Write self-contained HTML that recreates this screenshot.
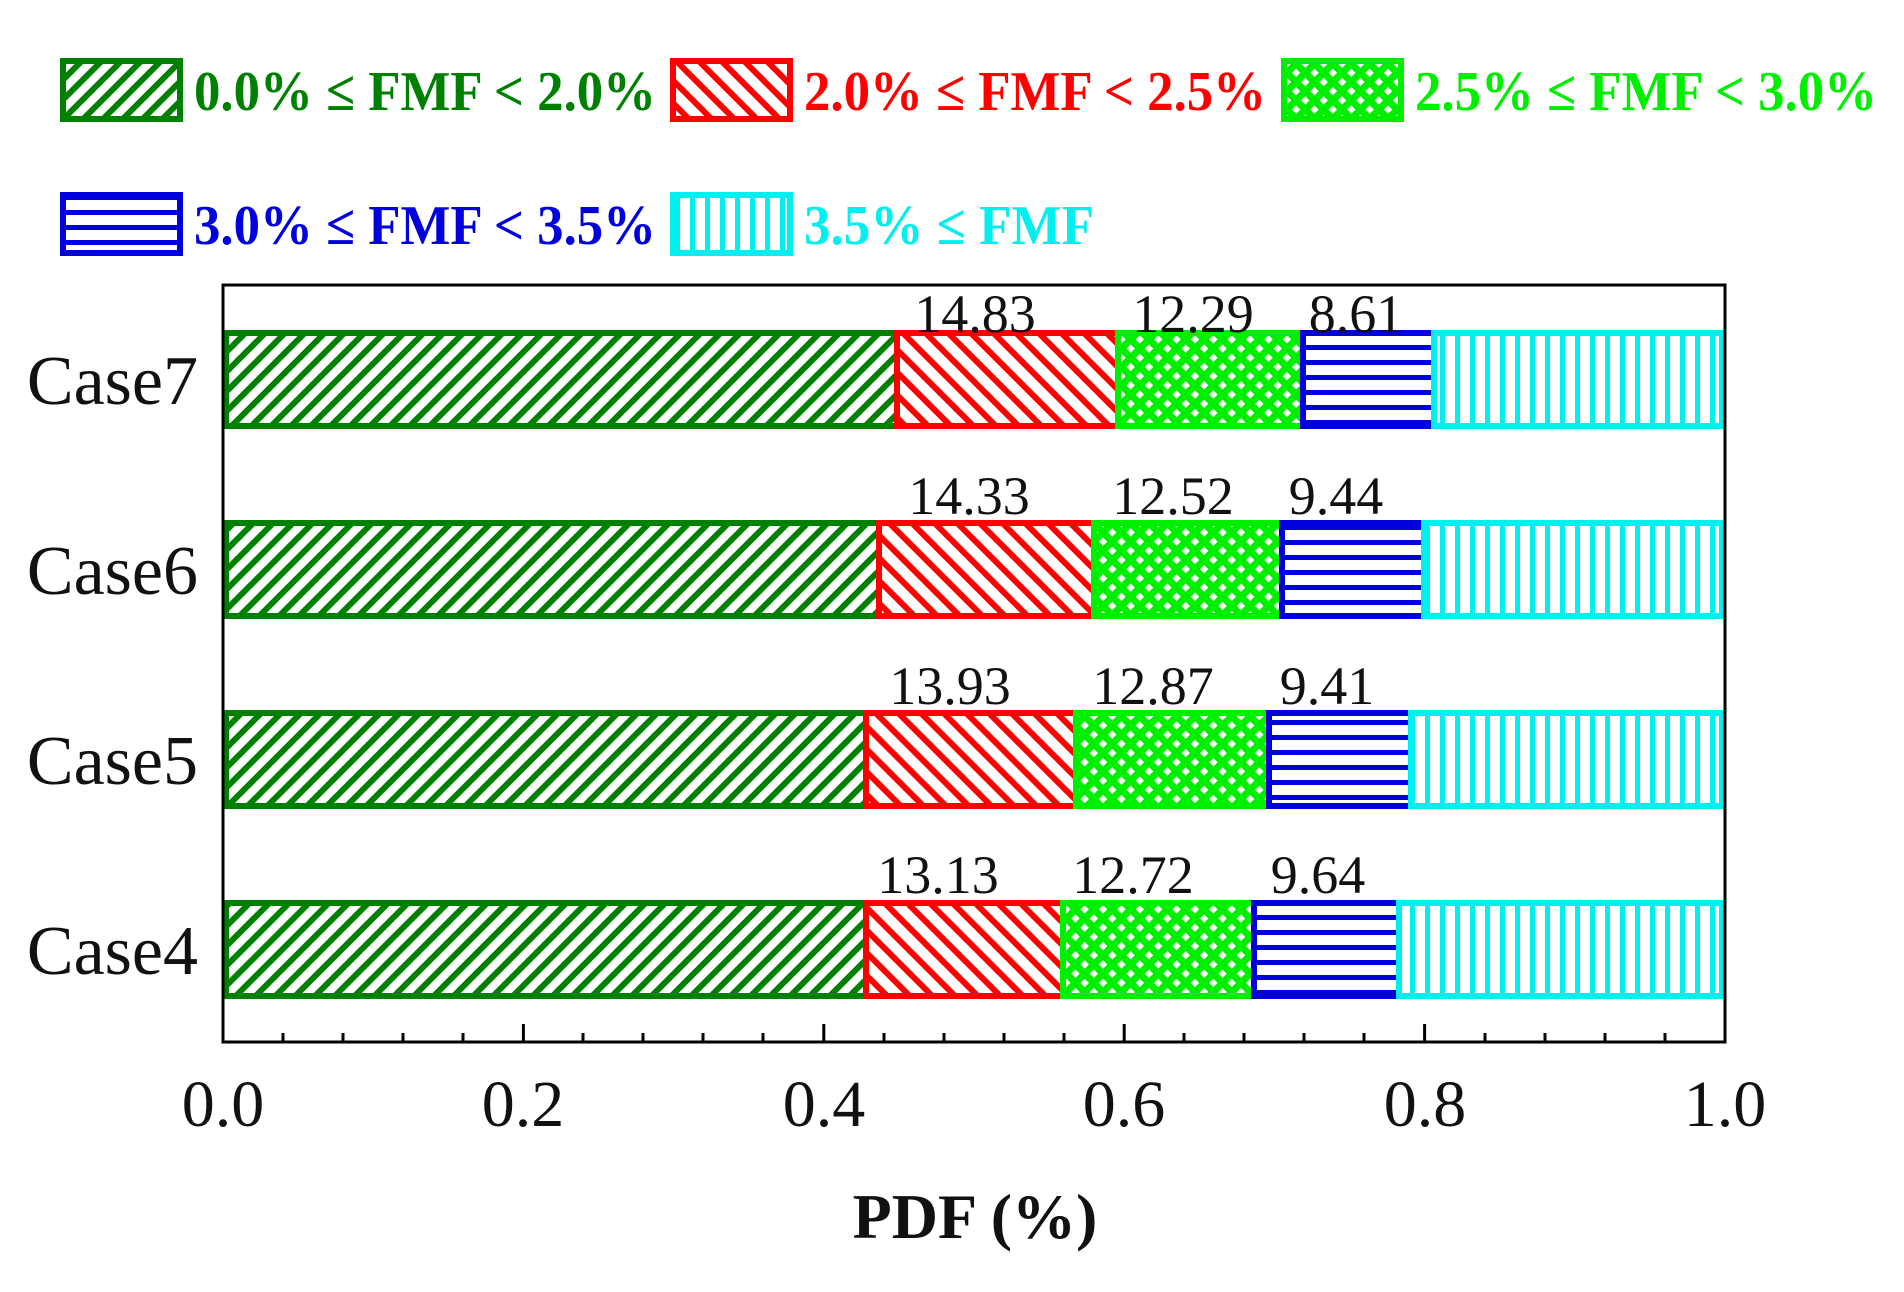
<!DOCTYPE html>
<html><head><meta charset="utf-8"><style>
html,body{margin:0;padding:0;background:#fff;}
svg{display:block;}
</style></head><body>
<svg width="1904" height="1292" viewBox="0 0 1904 1292" xmlns="http://www.w3.org/2000/svg">
<defs>
<pattern id="pg" width="14" height="14" patternUnits="userSpaceOnUse" patternTransform="rotate(45)">
<rect width="14" height="14" fill="#fff"/><rect x="0" width="6" height="14" fill="#008000"/></pattern>
<pattern id="pr" width="16" height="16" patternUnits="userSpaceOnUse" patternTransform="rotate(-45)">
<rect width="16" height="16" fill="#fff"/><rect x="0" width="6" height="16" fill="#ff0000"/></pattern>
<pattern id="pl" width="13" height="13" patternUnits="userSpaceOnUse" patternTransform="rotate(45)">
<rect width="13" height="13" fill="#00ee00"/><rect x="3" y="3" width="6" height="6" fill="#f4fff4"/></pattern>
<pattern id="pb" width="15" height="15" patternUnits="userSpaceOnUse">
<rect width="15" height="15" fill="#fff"/><rect y="0" width="15" height="5" fill="#0000dd"/></pattern>
<pattern id="pc" width="15" height="15" patternUnits="userSpaceOnUse">
<rect width="15" height="15" fill="#fff"/><rect x="0" width="5" height="15" fill="#00f0f0"/></pattern>
</defs>

<!-- Legend -->
<g font-family="Liberation Serif, serif" font-weight="bold" font-size="56">
<rect x="63" y="61" width="117" height="58" fill="url(#pg)" stroke="#008000" stroke-width="6"/>
<text x="194" y="110" fill="#008000" textLength="462" lengthAdjust="spacingAndGlyphs">0.0% ≤ FMF &lt; 2.0%</text>
<rect x="673" y="61" width="117" height="58" fill="url(#pr)" stroke="#ff0000" stroke-width="6"/>
<text x="804" y="110" fill="#ff0000" textLength="462" lengthAdjust="spacingAndGlyphs">2.0% ≤ FMF &lt; 2.5%</text>
<rect x="1284" y="61" width="117" height="58" fill="url(#pl)" stroke="#00ee00" stroke-width="6"/>
<text x="1415" y="110" fill="#00ee00" textLength="462" lengthAdjust="spacingAndGlyphs">2.5% ≤ FMF &lt; 3.0%</text>
<rect x="63" y="195" width="117" height="58" fill="url(#pb)" stroke="#0000dd" stroke-width="6"/>
<text x="194" y="244" fill="#0000dd" textLength="462" lengthAdjust="spacingAndGlyphs">3.0% ≤ FMF &lt; 3.5%</text>
<rect x="673" y="195" width="117" height="58" fill="url(#pc)" stroke="#00f0f0" stroke-width="6"/>
<text x="804" y="244" fill="#00f0f0" textLength="290" lengthAdjust="spacingAndGlyphs">3.5% ≤ FMF</text>
</g>

<!-- Bars -->
<g stroke-width="6">
<rect x="226" y="333" width="671" height="93" fill="url(#pg)" stroke="#008000"/>
<rect x="897" y="333" width="221" height="93" fill="url(#pr)" stroke="#ff0000"/>
<rect x="1118" y="333" width="185" height="93" fill="url(#pl)" stroke="#00ee00"/>
<rect x="1303" y="333" width="131" height="93" fill="url(#pb)" stroke="#0000dd"/>
<rect x="1434" y="333" width="288" height="93" fill="url(#pc)" stroke="#00f0f0"/>
<rect x="226" y="523" width="653" height="93" fill="url(#pg)" stroke="#008000"/>
<rect x="879" y="523" width="215" height="93" fill="url(#pr)" stroke="#ff0000"/>
<rect x="1094" y="523" width="188" height="93" fill="url(#pl)" stroke="#00ee00"/>
<rect x="1282" y="523" width="142" height="93" fill="url(#pb)" stroke="#0000dd"/>
<rect x="1424" y="523" width="298" height="93" fill="url(#pc)" stroke="#00f0f0"/>
<rect x="226" y="713" width="640" height="93" fill="url(#pg)" stroke="#008000"/>
<rect x="866" y="713" width="210" height="93" fill="url(#pr)" stroke="#ff0000"/>
<rect x="1076" y="713" width="193" height="93" fill="url(#pl)" stroke="#00ee00"/>
<rect x="1269" y="713" width="142" height="93" fill="url(#pb)" stroke="#0000dd"/>
<rect x="1411" y="713" width="311" height="93" fill="url(#pc)" stroke="#00f0f0"/>
<rect x="226" y="903" width="640" height="93" fill="url(#pg)" stroke="#008000"/>
<rect x="866" y="903" width="197" height="93" fill="url(#pr)" stroke="#ff0000"/>
<rect x="1063" y="903" width="191" height="93" fill="url(#pl)" stroke="#00ee00"/>
<rect x="1254" y="903" width="145" height="93" fill="url(#pb)" stroke="#0000dd"/>
<rect x="1399" y="903" width="323" height="93" fill="url(#pc)" stroke="#00f0f0"/>
</g>

<!-- Axes frame -->
<rect x="223" y="285" width="1502" height="757" fill="none" stroke="#000" stroke-width="3"/>
<g stroke="#000" stroke-width="3">
<line x1="223" y1="1042" x2="223" y2="1024"/>
<line x1="523.4" y1="1042" x2="523.4" y2="1024"/>
<line x1="823.8" y1="1042" x2="823.8" y2="1024"/>
<line x1="1124.2" y1="1042" x2="1124.2" y2="1024"/>
<line x1="1424.6" y1="1042" x2="1424.6" y2="1024"/>
<line x1="283" y1="1042" x2="283" y2="1033"/><line x1="343" y1="1042" x2="343" y2="1033"/><line x1="403" y1="1042" x2="403" y2="1033"/><line x1="463" y1="1042" x2="463" y2="1033"/>
<line x1="583" y1="1042" x2="583" y2="1033"/><line x1="643" y1="1042" x2="643" y2="1033"/><line x1="703" y1="1042" x2="703" y2="1033"/><line x1="763" y1="1042" x2="763" y2="1033"/>
<line x1="884" y1="1042" x2="884" y2="1033"/><line x1="944" y1="1042" x2="944" y2="1033"/><line x1="1004" y1="1042" x2="1004" y2="1033"/><line x1="1064" y1="1042" x2="1064" y2="1033"/>
<line x1="1184" y1="1042" x2="1184" y2="1033"/><line x1="1244" y1="1042" x2="1244" y2="1033"/><line x1="1304" y1="1042" x2="1304" y2="1033"/><line x1="1364" y1="1042" x2="1364" y2="1033"/>
<line x1="1485" y1="1042" x2="1485" y2="1033"/><line x1="1545" y1="1042" x2="1545" y2="1033"/><line x1="1605" y1="1042" x2="1605" y2="1033"/><line x1="1665" y1="1042" x2="1665" y2="1033"/>
</g>

<!-- Tick labels -->
<g font-family="Liberation Serif, serif" font-size="66" fill="#111" text-anchor="middle">
<text x="223" y="1126">0.0</text>
<text x="523" y="1126">0.2</text>
<text x="824" y="1126">0.4</text>
<text x="1124" y="1126">0.6</text>
<text x="1425" y="1126">0.8</text>
<text x="1725" y="1126">1.0</text>
</g>
<text x="975" y="1238" font-family="Liberation Serif, serif" font-weight="bold" font-size="64" text-anchor="middle" fill="#111">PDF (%)</text>

<!-- Case labels -->
<g font-family="Liberation Serif, serif" font-size="70" fill="#111" text-anchor="end">
<text x="198" y="404">Case7</text>
<text x="198" y="594">Case6</text>
<text x="198" y="784">Case5</text>
<text x="198" y="974">Case4</text>
</g>

<!-- Values -->
<g font-family="Liberation Serif, serif" font-size="54" fill="#111" text-anchor="middle">
<text x="975" y="332">14.83</text><text x="1193" y="332">12.29</text><text x="1356" y="332">8.61</text>
<text x="969" y="514">14.33</text><text x="1173" y="514">12.52</text><text x="1336" y="514">9.44</text>
<text x="950" y="704">13.93</text><text x="1153" y="704">12.87</text><text x="1327" y="704">9.41</text>
<text x="938" y="893">13.13</text><text x="1133" y="893">12.72</text><text x="1318" y="893">9.64</text>
</g>
</svg>
</body></html>
